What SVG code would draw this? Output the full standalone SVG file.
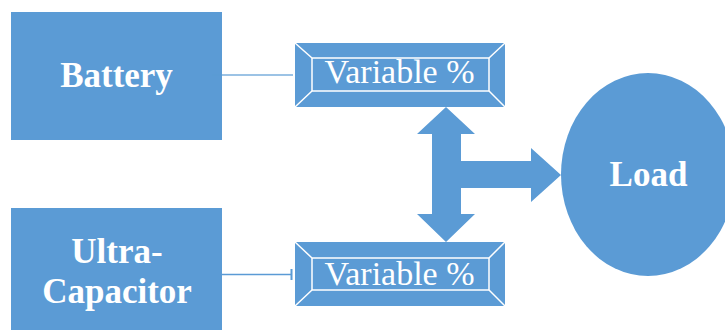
<svg xmlns="http://www.w3.org/2000/svg" width="725" height="330" viewBox="0 0 725 330">
<style>
.fill{fill:#5B9BD5}
.lbl{font-family:'Liberation Serif','Times New Roman','DejaVu Serif',serif;font-weight:bold;font-size:35px;fill:#fff;text-anchor:middle}
.var{font-family:'Liberation Serif','Times New Roman','DejaVu Serif',serif;font-size:34px;fill:#fff;text-anchor:middle}
.bev{stroke:#fff;stroke-width:1.5;fill:none}
.conn{stroke:#5B9BD5;stroke-width:1.5;fill:none}
</style>
<rect width="725" height="330" fill="#fff"/>
<g id="battery">
<rect class="fill" x="11" y="12" width="211" height="128"/>
<text class="lbl" x="116.5" y="87">Battery</text>
</g>
<g id="ultracap">
<rect class="fill" x="11" y="208" width="211" height="130"/>
<text class="lbl" x="117" y="263">Ultra-</text>
<text class="lbl" x="117" y="303">Capacitor</text>
</g>
<g id="var1">
<rect class="fill" x="295" y="43" width="210" height="64"/>
<rect class="bev" x="312" y="58" width="177" height="33"/>
<path class="bev" d="M295 43 L312 58 M505 43 L489 58 M295 107 L312 91 M505 107 L489 91"/>
<text class="var" x="399.5" y="83">Variable %</text>
</g>
<g id="var2">
<rect class="fill" x="295" y="242" width="210" height="64"/>
<rect class="bev" x="312" y="258" width="177" height="32"/>
<path class="bev" d="M295 242 L312 258 M505 242 L489 258 M295 306 L312 290 M505 306 L489 290"/>
<text class="var" x="399.5" y="285">Variable %</text>
</g>
<g id="load">
<ellipse class="fill" cx="648" cy="174.5" rx="87" ry="101.5"/>
<text class="lbl" x="648.5" y="186">Load</text>
</g>
<g id="connectors">
<line class="conn" x1="212" y1="75" x2="293" y2="75" stroke-opacity="0.8"/>
<line class="conn" x1="205" y1="274.5" x2="292" y2="274.5"/>
<rect class="fill" x="290.5" y="269" width="2" height="11"/>
<polygon class="fill" points="446,107 475,134 461,134 461,161 531,161 531,148 561,175 531,202 531,188 461,188 461,214 475,214 446,242 417,214 432,214 432,134 417,134"/>
</g>
</svg>
